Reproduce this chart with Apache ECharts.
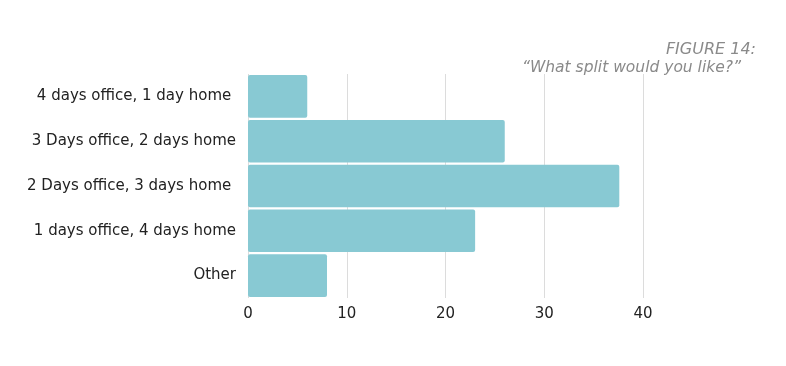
<!DOCTYPE html>
<html><head><meta charset="utf-8">
<script src="https://cdn.jsdelivr.net/npm/echarts@6/dist/echarts.min.js"></script>
<style>html,body{margin:0;padding:0;background:#fff}#c{width:786px;height:366px}</style>
</head><body><div id="c"></div>
<script>
const categories = ["4 days office, 1 day home ", "3 Days office, 2 days home", "2 Days office, 3 days home ", "1 days office, 4 days home", "Other"];
const values = [6, 26, 37.6, 23, 8];
const xTicks = [0, 10, 20, 30, 40];

const chart = echarts.init(document.getElementById('c'), null, {renderer: 'canvas'});
chart.setOption({
  animation: false,
  title: [
    {text: 'FIGURE 14:', right: 25, top: 37,
     textStyle: {fontFamily: 'DejaVu Sans', fontStyle: 'italic', fontWeight: 'normal', fontSize: 16, color: '#8a8a8a'}},
    {text: '\u201CWhat split would you like?\u201D', right: 40, top: 55,
     textStyle: {fontFamily: 'DejaVu Sans', fontStyle: 'italic', fontWeight: 'normal', fontSize: 15.5, color: '#8a8a8a'}}
  ],
  grid: {left: 248, right: 143, top: 74, bottom: 68, containLabel: false},
  xAxis: {
    type: 'value', min: xTicks[0], max: xTicks[xTicks.length - 1], interval: 10,
    axisLine: {show: false}, axisTick: {show: false},
    splitLine: {show: true, lineStyle: {color: '#dcdcdc', width: 1}},
    axisLabel: {fontFamily: 'DejaVu Sans', fontSize: 15, color: '#222', margin: 9}
  },
  yAxis: {
    type: 'category', data: categories, inverse: true,
    axisLine: {show: false}, axisTick: {show: false},
    axisLabel: {fontFamily: 'DejaVu Sans', fontSize: 15, color: '#222', margin: 12}
  },
  series: [{
    type: 'bar', data: values, barCategoryGap: '5%',
    itemStyle: {color: '#88c9d3', borderRadius: 2}
  }]
});
</script></body></html>
